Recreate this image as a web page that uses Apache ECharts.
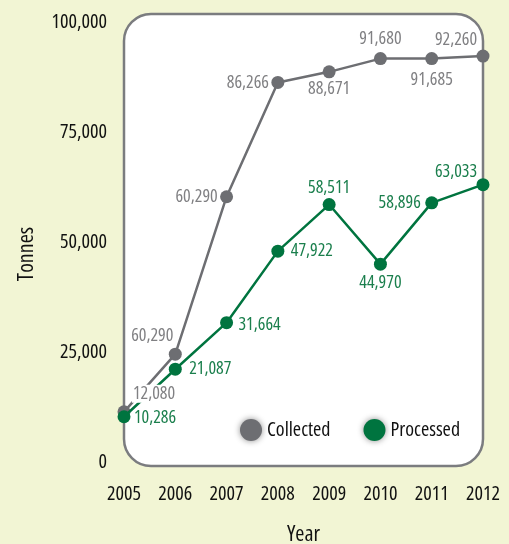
<!DOCTYPE html>
<html>
<head>
<meta charset="utf-8">
<script src="https://cdn.jsdelivr.net/npm/echarts@6/dist/echarts.min.js"></script>
<style>
html,body{margin:0;padding:0;background:#f2f5d4;}
#c{width:509px;height:544px;}
</style>
</head>
<body>
<div id="c"></div>
<script>
var years = ['2005','2006','2007','2008','2009','2010','2011','2012'];
var collected = [11400, 24500, 60290, 86266, 88671, 91680, 91685, 92260];
var collectedLabels = ['12,080','60,290','60,290','86,266','88,671','91,680','91,685','92,260'];
var processed = [10286, 21087, 31664, 47922, 58511, 44970, 58896, 63033];
var processedLabels = ['10,286','21,087','31,664','47,922','58,511','44,970','58,896','63,033'];
var yTicks = [0, 25000, 50000, 75000, 100000];

// label placement: [dx, dy] of label centre from point centre
var collectedOff = [[30,-18],[-23,-18],[-30,0],[-30,0],[0,17],[0,-20],[0,21],[-27,-16]];
var processedOff = [[31,1],[35,0],[33,2],[34,0],[0,-17],[0,19],[-32,0],[-27,-13]];

var FONT = '"Open Sans","Roboto",sans-serif';
var STRETCH = 'condensed';
var GRAY = '#6d6e72';
var GREEN = '#00743f';
var SYM = 13;

function fmt(v){ return v.toString().replace(/\B(?=(\d{3})+(?!\d))/g, ','); }

function mkData(vals, labels, offs){
  return vals.map(function(v,i){
    return {value: v, label: {
      show: true, formatter: labels[i],
      position: [offs[i][0] + SYM/2, offs[i][1] + SYM/2],
      align: 'center', verticalAlign: 'middle'
    }};
  });
}

var chart = echarts.init(document.getElementById('c'), null, {renderer:'canvas'});
chart.setOption({
  backgroundColor: '#f2f5d4',
  animation: false,
  textStyle: {fontFamily: FONT, fontStyle: STRETCH},
  graphic: [{
    type: 'rect', z: 0, silent: true,
    shape: {x: 124, y: 14, width: 359, height: 452, r: 27},
    style: {fill: '#ffffff', stroke: '#7b7c7f', lineWidth: 2.5}
  },{
    type: 'text', z: 1, silent: true,
    x: 27, y: 254, rotation: Math.PI / 2,
    style: {text: 'Tonnes', fontFamily: FONT, fontStyle: STRETCH, fontSize: 22, fill: '#111',
      align: 'center', verticalAlign: 'middle'}
  }],
  grid: {left: 124, right: 26, top: 22, bottom: 82, containLabel: false, outerBoundsMode: 'none'},
  legend: {
    left: 235, top: 414,
    icon: 'circle', itemWidth: 22, itemHeight: 22, itemGap: 33,
    textStyle: {fontFamily: FONT, fontStyle: STRETCH, fontSize: 20, color: '#111'},
    itemStyle: {shadowBlur: 6, shadowColor: 'rgba(0,0,0,0.45)'},
    data: ['Collected','Processed']
  },
  xAxis: {
    type: 'category', data: years, boundaryGap: false,
    axisLine: {show:false}, axisTick: {show:false}, splitLine: {show:false},
    axisLabel: {fontFamily: FONT, fontStyle: STRETCH, fontSize: 20, color: '#111', margin: 22},
    name: 'Year', nameLocation: 'middle', nameGap: 62,
    nameTextStyle: {fontFamily: FONT, fontStyle: STRETCH, fontSize: 22, color: '#111'}
  },
  yAxis: {
    type: 'value', min: 0, max: 100000, interval: 25000,
    axisLine: {show:false}, axisTick: {show:false}, splitLine: {show:false},
    axisLabel: {fontFamily: FONT, fontStyle: STRETCH, fontSize: 20, color: '#111', margin: 17,
      formatter: function(v){ return fmt(v); }}
  },
  series: [{
    name: 'Collected', type: 'line', z: 3,
    data: collected,
    symbol: 'circle', symbolSize: SYM,
    lineStyle: {color: GRAY, width: 2.5},
    itemStyle: {color: GRAY},
    label: {show: false}
  },{
    name: 'Processed', type: 'line', z: 4,
    data: mkData(processed, processedLabels, processedOff),
    symbol: 'circle', symbolSize: SYM,
    lineStyle: {color: GREEN, width: 2.5},
    itemStyle: {color: GREEN},
    label: {fontFamily: FONT, fontStyle: STRETCH, fontSize: 18, color: '#1b7f4d'}
  },{
    name: 'Collected values', type: 'line', z: 5,
    data: mkData(collected, collectedLabels, collectedOff),
    symbol: 'circle', symbolSize: SYM,
    lineStyle: {width: 0, opacity: 0},
    itemStyle: {color: 'rgba(0,0,0,0)'},
    label: {fontFamily: FONT, fontStyle: STRETCH, fontSize: 18, color: '#808083',
      backgroundColor: '#ffffff', padding: [0, 1]}
  }]
});
</script>
</body>
</html>
